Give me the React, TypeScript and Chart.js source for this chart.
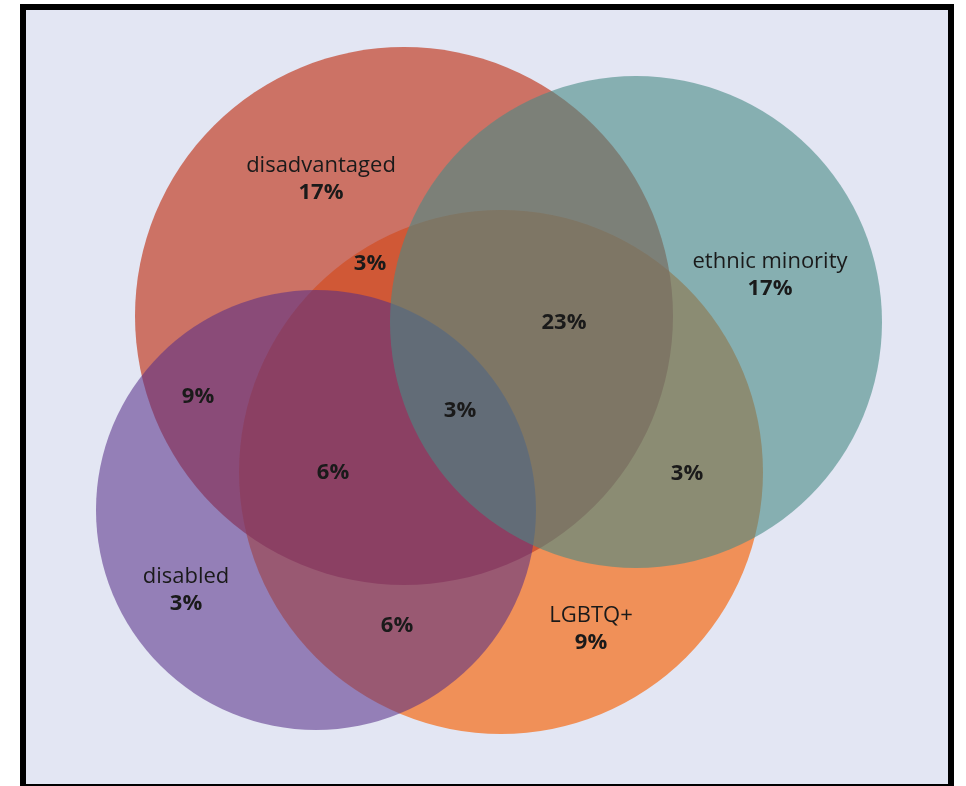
import React, { useEffect, useRef } from "react";
import { Chart, registerables } from "chart.js";

Chart.register(...registerables);

// Sets of the Venn diagram (listed bottom layer first)
const setNames = ["LGBTQ+", "disadvantaged", "disabled", "ethnic minority"];
const setCenterX = [501, 404, 316, 636];
const setCenterY = [472, 316, 510, 322];
const setRadius = [262, 269, 220, 246];
const setColors = [
  "rgba(240,144,88,1)",
  "rgba(194,64,40,0.7)",
  "rgba(86,46,136,0.56)",
  "rgba(72,138,134,0.6)",
];

// Set-name labels (with their exclusive share)
const namePct = ["9%", "17%", "3%", "17%"];
const nameLabelX = [591, 321, 186, 770];
const nameLabelY = [622, 172, 583, 268];

// Intersection region labels
const regionPct = ["3%", "23%", "9%", "3%", "6%", "3%", "6%"];
const regionX = [370, 564, 198, 460, 333, 687, 397];
const regionY = [270, 329, 403, 417, 479, 480, 632];

const X_MAX = 966;
const Y_MAX = 786;

const FONT_FAMILY = "'Open Sans', 'Noto Sans', sans-serif";

export default function App() {
  const canvasRef = useRef<HTMLCanvasElement | null>(null);

  useEffect(() => {
    if (!canvasRef.current) return;

    const datasets = setNames.map((name, i) => ({
      label: name,
      data: [{ x: setCenterX[i], y: setCenterY[i], r: 1 }],
      backgroundColor: setColors[i],
      borderWidth: 0,
      hoverBorderWidth: 0,
      hoverRadius: 0,
      clip: false as any,
      order: setNames.length - i,
    }));

    const labelPlugin = {
      id: "vennLabels",
      afterDatasetsDraw(chart: any) {
        const { ctx } = chart;
        const xs = chart.scales.x;
        const ys = chart.scales.y;
        ctx.save();
        ctx.fillStyle = "#1a1a1a";
        ctx.textAlign = "center";
        ctx.textBaseline = "alphabetic";
        setNames.forEach((name, i) => {
          const px = xs.getPixelForValue(nameLabelX[i]);
          const py = ys.getPixelForValue(nameLabelY[i]);
          ctx.font = `22px ${FONT_FAMILY}`;
          ctx.fillText(name, px, py);
          ctx.font = `bold 22px ${FONT_FAMILY}`;
          ctx.fillText(namePct[i], px, py + 27);
        });
        ctx.font = `bold 22px ${FONT_FAMILY}`;
        regionPct.forEach((t, i) => {
          ctx.fillText(t, xs.getPixelForValue(regionX[i]), ys.getPixelForValue(regionY[i]));
        });
        ctx.restore();
      },
    };

    const chart = new Chart(canvasRef.current, {
      type: "bubble",
      data: { datasets },
      options: {
        animation: false,
        responsive: false,
        events: [],
        layout: { padding: 0, autoPadding: false },
        plugins: { legend: { display: false }, tooltip: { enabled: false } },
        scales: {
          x: { type: "linear", min: 0, max: X_MAX, display: false },
          y: { type: "linear", min: 0, max: Y_MAX, reverse: true, display: false },
        },
      },
      plugins: [labelPlugin],
    });

    // convert each set's radius (in axis units) to pixels through the x scale
    const xs = chart.scales.x;
    chart.data.datasets.forEach((ds: any, i: number) => {
      ds.data[0].r = Math.abs(xs.getPixelForValue(setRadius[i]) - xs.getPixelForValue(0));
    });
    chart.update();

    return () => chart.destroy();
  }, []);

  return (
    <div style={{ position: "fixed", left: 0, top: 0, width: 966, height: 786, overflow: "hidden" }}>
      <div
        style={{
          position: "absolute",
          left: 20,
          top: 4,
          width: 922,
          height: 774,
          border: "6px solid #000",
          background: "#e3e6f3",
        }}
      />
      <canvas
        ref={canvasRef}
        width={966}
        height={786}
        style={{ position: "absolute", left: 0, top: 0, width: 966, height: 786 }}
      />
    </div>
  );
}
